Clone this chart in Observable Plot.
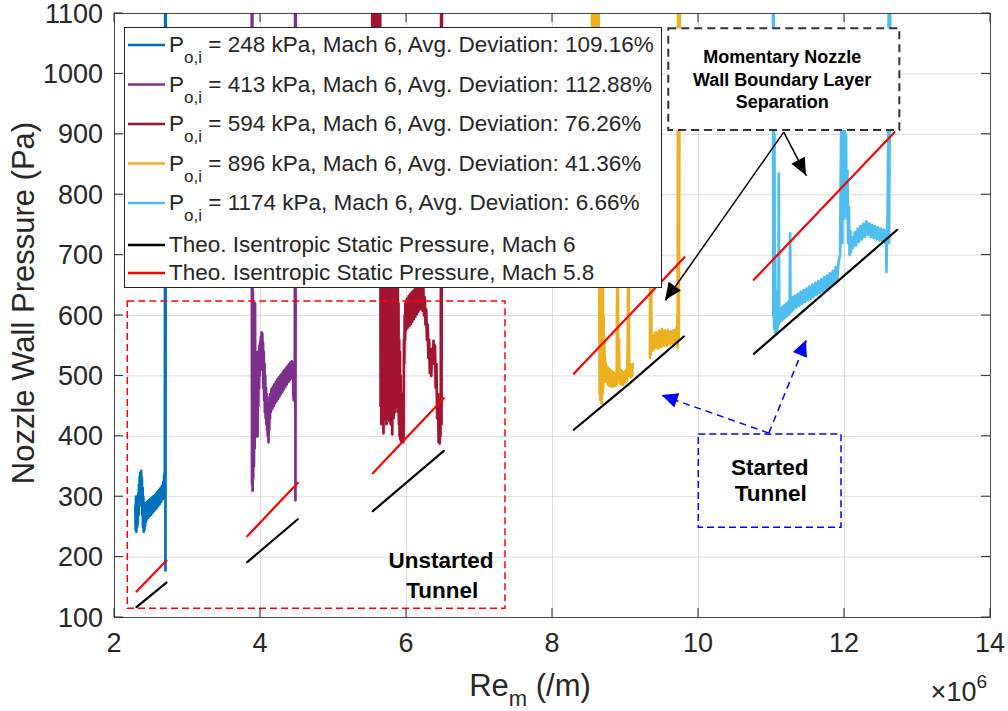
<!DOCTYPE html>
<html>
<head>
<meta charset="utf-8">
<script src="https://cdn.jsdelivr.net/npm/d3@7"></script>
<script src="https://cdn.jsdelivr.net/npm/@observablehq/plot@0.6"></script>
<style>
html,body{margin:0;padding:0;background:#fff;}
#chart{position:relative;width:1008px;height:711px;}
svg text{white-space:pre;}
</style>
</head>
<body>
<div id="chart"></div>
<script>
// ---------------- DATA (Re in units of 10^6 /m, pressure in Pa) ----------------
const xTicks = [2, 4, 6, 8, 10, 12, 14];
const yTicks = [100, 200, 300, 400, 500, 600, 700, 800, 900, 1000, 1100];

const runPressures = ["248", "413", "594", "896", "1174"];
const runDeviations = ["109.16%", "112.88%", "76.26%", "41.36%", "6.66%"];
const runColors = ["#0072BD", "#7E2F8E", "#A2142F", "#EDB120", "#4DBEEE"];
const theoLabels = ["Theo. Isentropic Static Pressure, Mach 6", "Theo. Isentropic Static Pressure, Mach 5.8"];

const trace248 = [
  [2.285,285],[2.290,245],[2.295,300],[2.300,242],[2.305,295],[2.310,250],[2.315,298],[2.320,255],
  [2.325,305],[2.330,270],[2.335,320],[2.340,285],[2.345,333],[2.350,300],[2.355,340],[2.360,310],
  [2.365,343],[2.370,300],[2.375,330],[2.380,270],[2.385,315],[2.390,250],[2.395,300],[2.400,242],
  [2.405,290],[2.410,245],[2.415,285],[2.420,252],[2.425,288],[2.430,258],[2.435,290],[2.440,262],
  [2.450,292],[2.460,265],[2.470,294],[2.480,268],[2.490,296],[2.500,270],[2.510,298],[2.520,273],
  [2.530,300],[2.540,276],[2.550,302],[2.560,279],[2.570,305],[2.580,282],[2.590,308],[2.600,285],
  [2.610,311],[2.620,288],[2.630,314],[2.640,292],[2.650,318],[2.660,296],[2.670,325],[2.675,300],
  [2.680,335],[2.685,312],[2.690,345],[2.695,1200],[2.698,178],[2.702,1200]
];
const trace413 = [
  [3.880,1200],[3.884,320],[3.888,1200],[3.892,310],[3.896,640],[3.900,330],[3.905,600],[3.910,350],
  [3.915,560],[3.920,380],[3.925,620],[3.930,420],[3.935,540],[3.940,400],[3.945,520],[3.950,430],
  [3.955,500],[3.960,400],[3.965,540],[3.970,450],[3.975,520],[3.980,480],[3.985,550],[3.990,500],
  [3.995,555],[4.000,510],[4.005,565],[4.010,520],[4.015,572],[4.020,530],[4.025,570],[4.030,510],
  [4.035,555],[4.040,480],[4.045,540],[4.050,460],[4.055,520],[4.060,440],[4.065,500],[4.070,430],
  [4.075,480],[4.080,420],[4.085,470],[4.090,410],[4.095,455],[4.100,400],[4.105,450],[4.110,390],
  [4.115,440],[4.120,410],[4.125,465],[4.130,430],[4.135,470],[4.140,440],[4.150,478],[4.160,445],
  [4.170,482],[4.180,450],[4.190,486],[4.200,455],[4.210,490],[4.220,458],[4.230,494],[4.240,462],
  [4.250,497],[4.260,466],[4.270,500],[4.280,470],[4.290,503],[4.300,474],[4.310,507],[4.320,478],
  [4.330,510],[4.340,482],[4.350,513],[4.360,486],[4.370,516],[4.380,490],[4.390,519],[4.400,493],
  [4.410,522],[4.420,496],[4.430,524],[4.440,500],[4.445,520],[4.450,470],[4.455,460],[4.460,480],
  [4.465,462],[4.470,470],[4.475,1200],[4.479,294],[4.483,1200]
];
const trace594 = [
  [5.530,1200],[5.535,700],[5.540,1200],[5.545,720],[5.550,1200],[5.555,680],[5.560,1200],[5.570,700],
  [5.580,1200],[5.590,690],[5.600,1200],[5.610,700],[5.620,1150],[5.630,680],[5.640,1100],[5.645,450],
  [5.650,800],[5.655,420],[5.660,760],[5.665,440],[5.670,700],[5.675,430],[5.680,760],[5.685,405],
  [5.690,700],[5.695,450],[5.700,720],[5.705,430],[5.710,690],[5.715,440],[5.720,740],[5.725,420],
  [5.730,700],[5.735,445],[5.740,720],[5.745,430],[5.750,690],[5.755,440],[5.760,730],[5.765,425],
  [5.770,700],[5.775,440],[5.780,720],[5.785,420],[5.790,690],[5.795,430],[5.800,710],[5.805,403],
  [5.810,680],[5.815,440],[5.820,700],[5.825,430],[5.830,670],[5.835,450],[5.840,690],[5.845,440],
  [5.850,660],[5.855,460],[5.860,680],[5.865,450],[5.870,650],[5.875,470],[5.880,660],[5.885,440],
  [5.890,620],[5.895,420],[5.900,560],[5.905,400],[5.910,540],[5.915,395],[5.920,500],[5.925,392],
  [5.930,470],[5.935,400],[5.940,450],[5.945,395],[5.950,420],[5.955,390],[5.960,400],[5.965,560],
  [5.970,520],[5.975,600],[5.980,560],[5.985,620],[5.990,575],[5.995,625],[6.000,578],[6.010,628],
  [6.020,580],[6.030,632],[6.040,583],[6.050,635],[6.060,586],[6.070,638],[6.080,590],[6.090,640],
  [6.100,594],[6.110,643],[6.120,598],[6.130,646],[6.140,602],[6.150,650],[6.160,606],[6.170,650],
  [6.180,610],[6.190,655],[6.200,612],[6.210,655],[6.220,608],[6.230,650],[6.240,600],[6.250,630],
  [6.260,585],[6.270,610],[6.280,560],[6.290,585],[6.300,530],[6.310,560],[6.320,505],[6.330,540],
  [6.340,500],[6.350,545],[6.360,520],[6.370,558],[6.380,530],[6.390,550],[6.400,480],[6.410,520],
  [6.420,430],[6.430,470],[6.440,390],[6.450,430],[6.455,388],[6.460,440],[6.465,400],[6.470,480],
  [6.475,1200],[6.480,420],[6.485,1200]
];
const trace896 = [
  [8.540,1200],[8.545,700],[8.550,1200],[8.560,720],[8.570,1200],[8.580,700],[8.590,1200],[8.600,680],
  [8.610,1200],[8.620,690],[8.630,1200],[8.640,660],[8.645,470],[8.650,900],[8.655,460],[8.660,800],
  [8.665,455],[8.670,760],[8.675,454],[8.680,700],[8.685,470],[8.690,650],[8.695,480],[8.700,600],
  [8.705,490],[8.710,560],[8.715,500],[8.720,530],[8.725,495],[8.730,520],[8.740,490],[8.750,515],
  [8.760,485],[8.770,512],[8.780,484],[8.790,510],[8.800,483],[8.810,508],[8.820,482],[8.830,506],
  [8.840,483],[8.850,505],[8.860,484],[8.870,505],[8.880,486],[8.885,650],[8.890,500],[8.895,645],
  [8.900,495],[8.910,560],[8.920,488],[8.930,510],[8.940,486],[8.950,508],[8.960,485],[8.970,506],
  [8.980,487],[8.990,507],[9.000,490],[9.010,510],[9.020,492],[9.030,540],[9.035,650],[9.040,500],
  [9.045,648],[9.050,505],[9.060,520],[9.070,498],[9.080,518],[9.090,500],[9.100,520],[9.105,NaN],
  [9.335,530],[9.340,760],[9.345,535],[9.350,740],[9.355,540],[9.360,560],[9.370,542],[9.380,565],
  [9.390,545],[9.400,570],[9.410,546],[9.420,572],[9.430,548],[9.440,566],[9.450,545],[9.460,575],
  [9.470,550],[9.480,570],[9.490,548],[9.500,578],[9.510,552],[9.520,568],[9.530,550],[9.540,575],
  [9.550,553],[9.560,572],[9.570,550],[9.580,576],[9.590,555],[9.600,570],[9.610,552],[9.620,574],
  [9.630,556],[9.640,572],[9.650,554],[9.660,576],[9.670,556],[9.680,574],[9.690,558],[9.700,580],
  [9.705,560],[9.710,600],[9.715,547],[9.720,1200],[9.730,560],[9.745,1200]
];
const trace1174 = [
  [11.020,1200],[11.025,600],[11.030,1200],[11.035,580],[11.040,900],[11.045,575],[11.050,700],[11.055,570],
  [11.060,640],[11.065,578],[11.070,620],[11.075,572],[11.080,615],[11.085,580],[11.090,612],[11.095,585],
  [11.100,835],[11.105,588],[11.110,610],[11.120,590],[11.130,612],[11.140,592],[11.150,614],[11.160,594],
  [11.170,616],[11.180,596],[11.190,618],[11.200,598],[11.210,620],[11.220,600],[11.230,622],[11.240,602],
  [11.250,624],[11.255,736],[11.260,605],[11.270,628],[11.280,607],[11.290,630],[11.300,610],[11.320,633],
  [11.340,613],[11.360,636],[11.380,616],[11.400,639],[11.420,619],[11.440,642],[11.460,622],[11.480,645],
  [11.500,625],[11.520,648],[11.540,628],[11.560,651],[11.580,631],[11.600,654],[11.620,634],[11.640,657],
  [11.660,637],[11.680,660],[11.700,640],[11.720,663],[11.740,643],[11.760,666],[11.780,646],[11.800,670],
  [11.820,650],[11.840,674],[11.860,654],[11.880,680],[11.900,660],[11.920,690],[11.940,700],[11.960,1000],
  [11.970,720],[11.980,980],[11.990,760],[12.000,960],[12.010,800],[12.020,900],[12.030,760],[12.040,840],
  [12.050,720],[12.060,780],[12.070,700],[12.080,740],[12.090,705],[12.100,730],[12.120,712],[12.140,738],
  [12.160,716],[12.180,744],[12.200,722],[12.220,748],[12.240,726],[12.260,752],[12.280,730],[12.300,756],
  [12.320,734],[12.340,752],[12.360,730],[12.380,750],[12.400,728],[12.420,748],[12.440,726],[12.460,746],
  [12.480,724],[12.500,744],[12.520,722],[12.540,742],[12.560,720],[12.570,740],[12.575,672],[12.580,735],
  [12.590,760],[12.600,900],[12.607,1200],[12.610,720],[12.630,1200]
];
const runTraces = [trace248, trace413, trace594, trace896, trace1174];

// theoretical isentropic static pressure: [run, Re, p]
const theoMach6 = [
  ["248",2.301,117.1],["248",2.712,157.9],
  ["413",3.818,191.6],["413",4.511,262.7],
  ["594",5.538,276.0],["594",6.511,376.0],
  ["896",8.292,410.8],["896",9.045,486.5],["896",9.799,565.2],
  ["1174",10.758,536.6],["1174",12.722,741.9]
];
const theoMach58 = [
  ["248",2.301,143.0],["248",2.712,194.4],
  ["413",3.818,234.6],["413",4.511,323.0],
  ["594",5.538,338.9],["594",6.511,463.0],
  ["896",8.292,503.5],["896",9.808,696.5],
  ["1174",10.758,659.1],["1174",12.685,903.5]
];

// annotations (data coordinates)
const unstartedBox = [{x1: 2.182, x2: 7.356, y1: 114.4, y2: 623.2}];
const startedBox = [{x1: 10.004, x2: 11.959, y1: 248.5, y2: 403.0}];
const separationBox = [{x1: 9.593, x2: 12.758, y1: 906.3, y2: 1074.7}];
const unstartedText = [{x: 6.473, y: 194.4, t: "Unstarted"}, {x: 6.489, y: 144.7, t: "Tunnel"}];
const startedText = [{x: 10.977, y: 347.8, t: "Started"}, {x: 10.990, y: 304.8, t: "Tunnel"}];
const separationText = [
  {x: 11.146, y: 1027.6, t: "Momentary Nozzle"},
  {x: 11.146, y: 989.0, t: "Wall Boundary Layer"},
  {x: 11.146, y: 953.0, t: "Separation"}
];
const separationArrows = [[11.168, 903.5, 9.548, 624.8], [11.168, 903.5, 11.479, 831.3]];
const startedArrows = [[10.963, 405.3, 9.503, 467.5], [10.963, 405.3, 11.479, 558.6]];

// ---------------- RENDER ----------------
const FONT = "'Liberation Sans', Arial, Helvetica, sans-serif";
const AXC = "#262626";
const M = {left: 114, right: 18, top: 13, bottom: 94};
const W = 1008, H = 711;

function getScales(scales) {
  const sx = scales && typeof scales.x === "function" ? scales.x :
    d3.scaleLinear([2, 14], [M.left, W - M.right]);
  const sy = scales && typeof scales.y === "function" ? scales.y :
    d3.scaleLinear([100, 1100], [H - M.bottom, M.top]);
  return [sx, sy];
}

function arrowHeads(list, color, len, half) {
  return (index, scales) => {
    const [sx, sy] = getScales(scales);
    const g = d3.create("svg:g");
    for (const a of list) {
      const x1 = sx(a[0]), y1 = sy(a[1]), x2 = sx(a[2]), y2 = sy(a[3]);
      const ang = Math.atan2(y2 - y1, x2 - x1), c = Math.cos(ang), s = Math.sin(ang);
      const bx = x2 - len * c, by = y2 - len * s;
      const pts = [[x2, y2], [bx - half * s, by + half * c], [bx + half * s, by - half * c]];
      g.append("polygon").attr("points", pts.map(p => p.join(",")).join(" ")).attr("fill", color);
    }
    return g.node();
  };
}

function axesOverlay(index, scales) {
  const [sx, sy] = getScales(scales);
  const g = d3.create("svg:g").attr("font-family", FONT).attr("text-anchor", "start");
  const x0 = sx(2), x1 = sx(14), y0 = sy(100), y1 = sy(1100);
  const tl = 9;
  // ticks (inward, mirrored) and tick labels
  for (const t of xTicks) {
    const x = sx(t);
    g.append("line").attr("x1", x).attr("x2", x).attr("y1", y0).attr("y2", y0 - tl).attr("stroke", AXC);
    g.append("line").attr("x1", x).attr("x2", x).attr("y1", y1).attr("y2", y1 + tl).attr("stroke", AXC);
    g.append("text").attr("x", x).attr("y", y0 + 35).attr("text-anchor", "middle")
      .attr("font-size", 27).attr("fill", AXC).text(String(t));
  }
  for (const t of yTicks) {
    const y = sy(t);
    g.append("line").attr("x1", x0).attr("x2", x0 + tl).attr("y1", y).attr("y2", y).attr("stroke", AXC);
    g.append("line").attr("x1", x1).attr("x2", x1 - tl).attr("y1", y).attr("y2", y).attr("stroke", AXC);
    g.append("text").attr("x", x0 - 11).attr("y", y + 9.5).attr("text-anchor", "end")
      .attr("font-size", 27).attr("fill", AXC).text(String(t));
  }
  // axis labels
  const xl = g.append("text").attr("x", 530).attr("y", 696).attr("text-anchor", "middle")
    .attr("font-size", 31).attr("fill", AXC);
  xl.append("tspan").text("Re");
  xl.append("tspan").attr("font-size", 22).attr("dy", 10).text("m");
  xl.append("tspan").attr("dy", -10).text(" (/m)");
  g.append("text").attr("transform", `translate(34,${(y0 + y1) / 2 - 12}) rotate(-90)`)
    .attr("text-anchor", "middle").attr("font-size", 31).attr("fill", AXC)
    .text("Nozzle Wall Pressure (Pa)");
  const ex = g.append("text").attr("x", x1 - 3).attr("y", 701).attr("text-anchor", "end")
    .attr("font-size", 27).attr("fill", AXC);
  ex.append("tspan").text("\u00d710");
  ex.append("tspan").attr("font-size", 19).attr("dy", -13).text("6");

  // legend
  const lg = g.append("g").attr("text-anchor", "start");
  lg.append("rect").attr("x", 124.5).attr("y", 27.5).attr("width", 537).attr("height", 260)
    .attr("fill", "white").attr("stroke", AXC).attr("stroke-width", 1);
  const rowC = [44, 83.5, 123, 162.5, 202, 244, 272];
  runPressures.forEach((p, i) => {
    const cy = rowC[i];
    lg.append("line").attr("x1", 128).attr("x2", 165).attr("y1", cy + 1).attr("y2", cy + 1)
      .attr("stroke", runColors[i]).attr("stroke-width", 2.5);
    const t = lg.append("text").attr("x", 169).attr("y", cy + 8).attr("text-anchor", "start")
      .attr("font-size", 22.5).attr("fill", AXC);
    t.append("tspan").text("P");
    t.append("tspan").attr("font-size", 17).attr("dy", 11).text("o,i");
    t.append("tspan").attr("dy", -11).text(` = ${p} kPa, Mach 6, Avg. Deviation: ${runDeviations[i]}`);
  });
  ["#000000", "#FF0000"].forEach((c, j) => {
    const cy = rowC[5 + j];
    lg.append("line").attr("x1", 128).attr("x2", 165).attr("y1", cy + 1).attr("y2", cy + 1)
      .attr("stroke", c).attr("stroke-width", 2.5);
    lg.append("text").attr("x", 169).attr("y", cy + 8).attr("text-anchor", "start")
      .attr("font-size", 22.5).attr("fill", AXC).text(theoLabels[j]);
  });
  return g.node();
}

const traceMarks = runTraces.map((tr, i) =>
  Plot.line(tr, {x: d => d[0], y: d => d[1], stroke: runColors[i], strokeWidth: 2.7,
    strokeLinejoin: "round", clip: true}));

const chart = Plot.plot({
  width: W, height: H,
  marginLeft: M.left, marginRight: M.right, marginTop: M.top, marginBottom: M.bottom,
  x: {domain: [2, 14], axis: null},
  y: {domain: [100, 1100], axis: null},
  style: {fontFamily: FONT, background: "white", overflow: "visible"},
  marks: [
    Plot.ruleX(xTicks, {x: d => d, stroke: AXC, strokeOpacity: 0.15}),
    Plot.ruleY(yTicks, {y: d => d, stroke: AXC, strokeOpacity: 0.15}),
    ...traceMarks,
    Plot.line(theoMach6, {x: d => d[1], y: d => d[2], z: d => d[0], stroke: "#000000", strokeWidth: 2.2}),
    Plot.line(theoMach58, {x: d => d[1], y: d => d[2], z: d => d[0], stroke: "#FF0000", strokeWidth: 2.2}),
    Plot.rect(unstartedBox, {x1: "x1", x2: "x2", y1: "y1", y2: "y2", fill: "none",
      stroke: "#FF0000", strokeWidth: 1.5, strokeDasharray: "7,4"}),
    Plot.link(separationArrows, {x1: d => d[0], y1: d => d[1], x2: d => d[2], y2: d => d[3],
      stroke: "#000000", strokeWidth: 1.5}),
    arrowHeads(separationArrows, "#000000", 17, 7.5),
    Plot.rect(separationBox, {x1: "x1", x2: "x2", y1: "y1", y2: "y2", fill: "white",
      stroke: "#333333", strokeWidth: 2, strokeDasharray: "8,5"}),
    Plot.rect(startedBox, {x1: "x1", x2: "x2", y1: "y1", y2: "y2", fill: "white",
      stroke: "#0000FF", strokeWidth: 1.5, strokeDasharray: "7,4"}),
    Plot.link(startedArrows, {x1: d => d[0], y1: d => d[1], x2: d => d[2], y2: d => d[3],
      stroke: "#0000FF", strokeWidth: 1.5, strokeDasharray: "7,5"}),
    arrowHeads(startedArrows, "#0000FF", 16, 7.5),
    Plot.text(unstartedText, {x: "x", y: "y", text: "t", fontSize: 22.5, fontWeight: "bold", fill: "#000"}),
    Plot.text(startedText, {x: "x", y: "y", text: "t", fontSize: 22.5, fontWeight: "bold", fill: "#000"}),
    Plot.text(separationText, {x: "x", y: "y", text: "t", fontSize: 18, fontWeight: "bold", fill: "#000"}),
    Plot.frame({stroke: AXC, strokeOpacity: 0.8}),
    axesOverlay
  ]
});
document.getElementById("chart").appendChild(chart);
</script>
</body>
</html>
